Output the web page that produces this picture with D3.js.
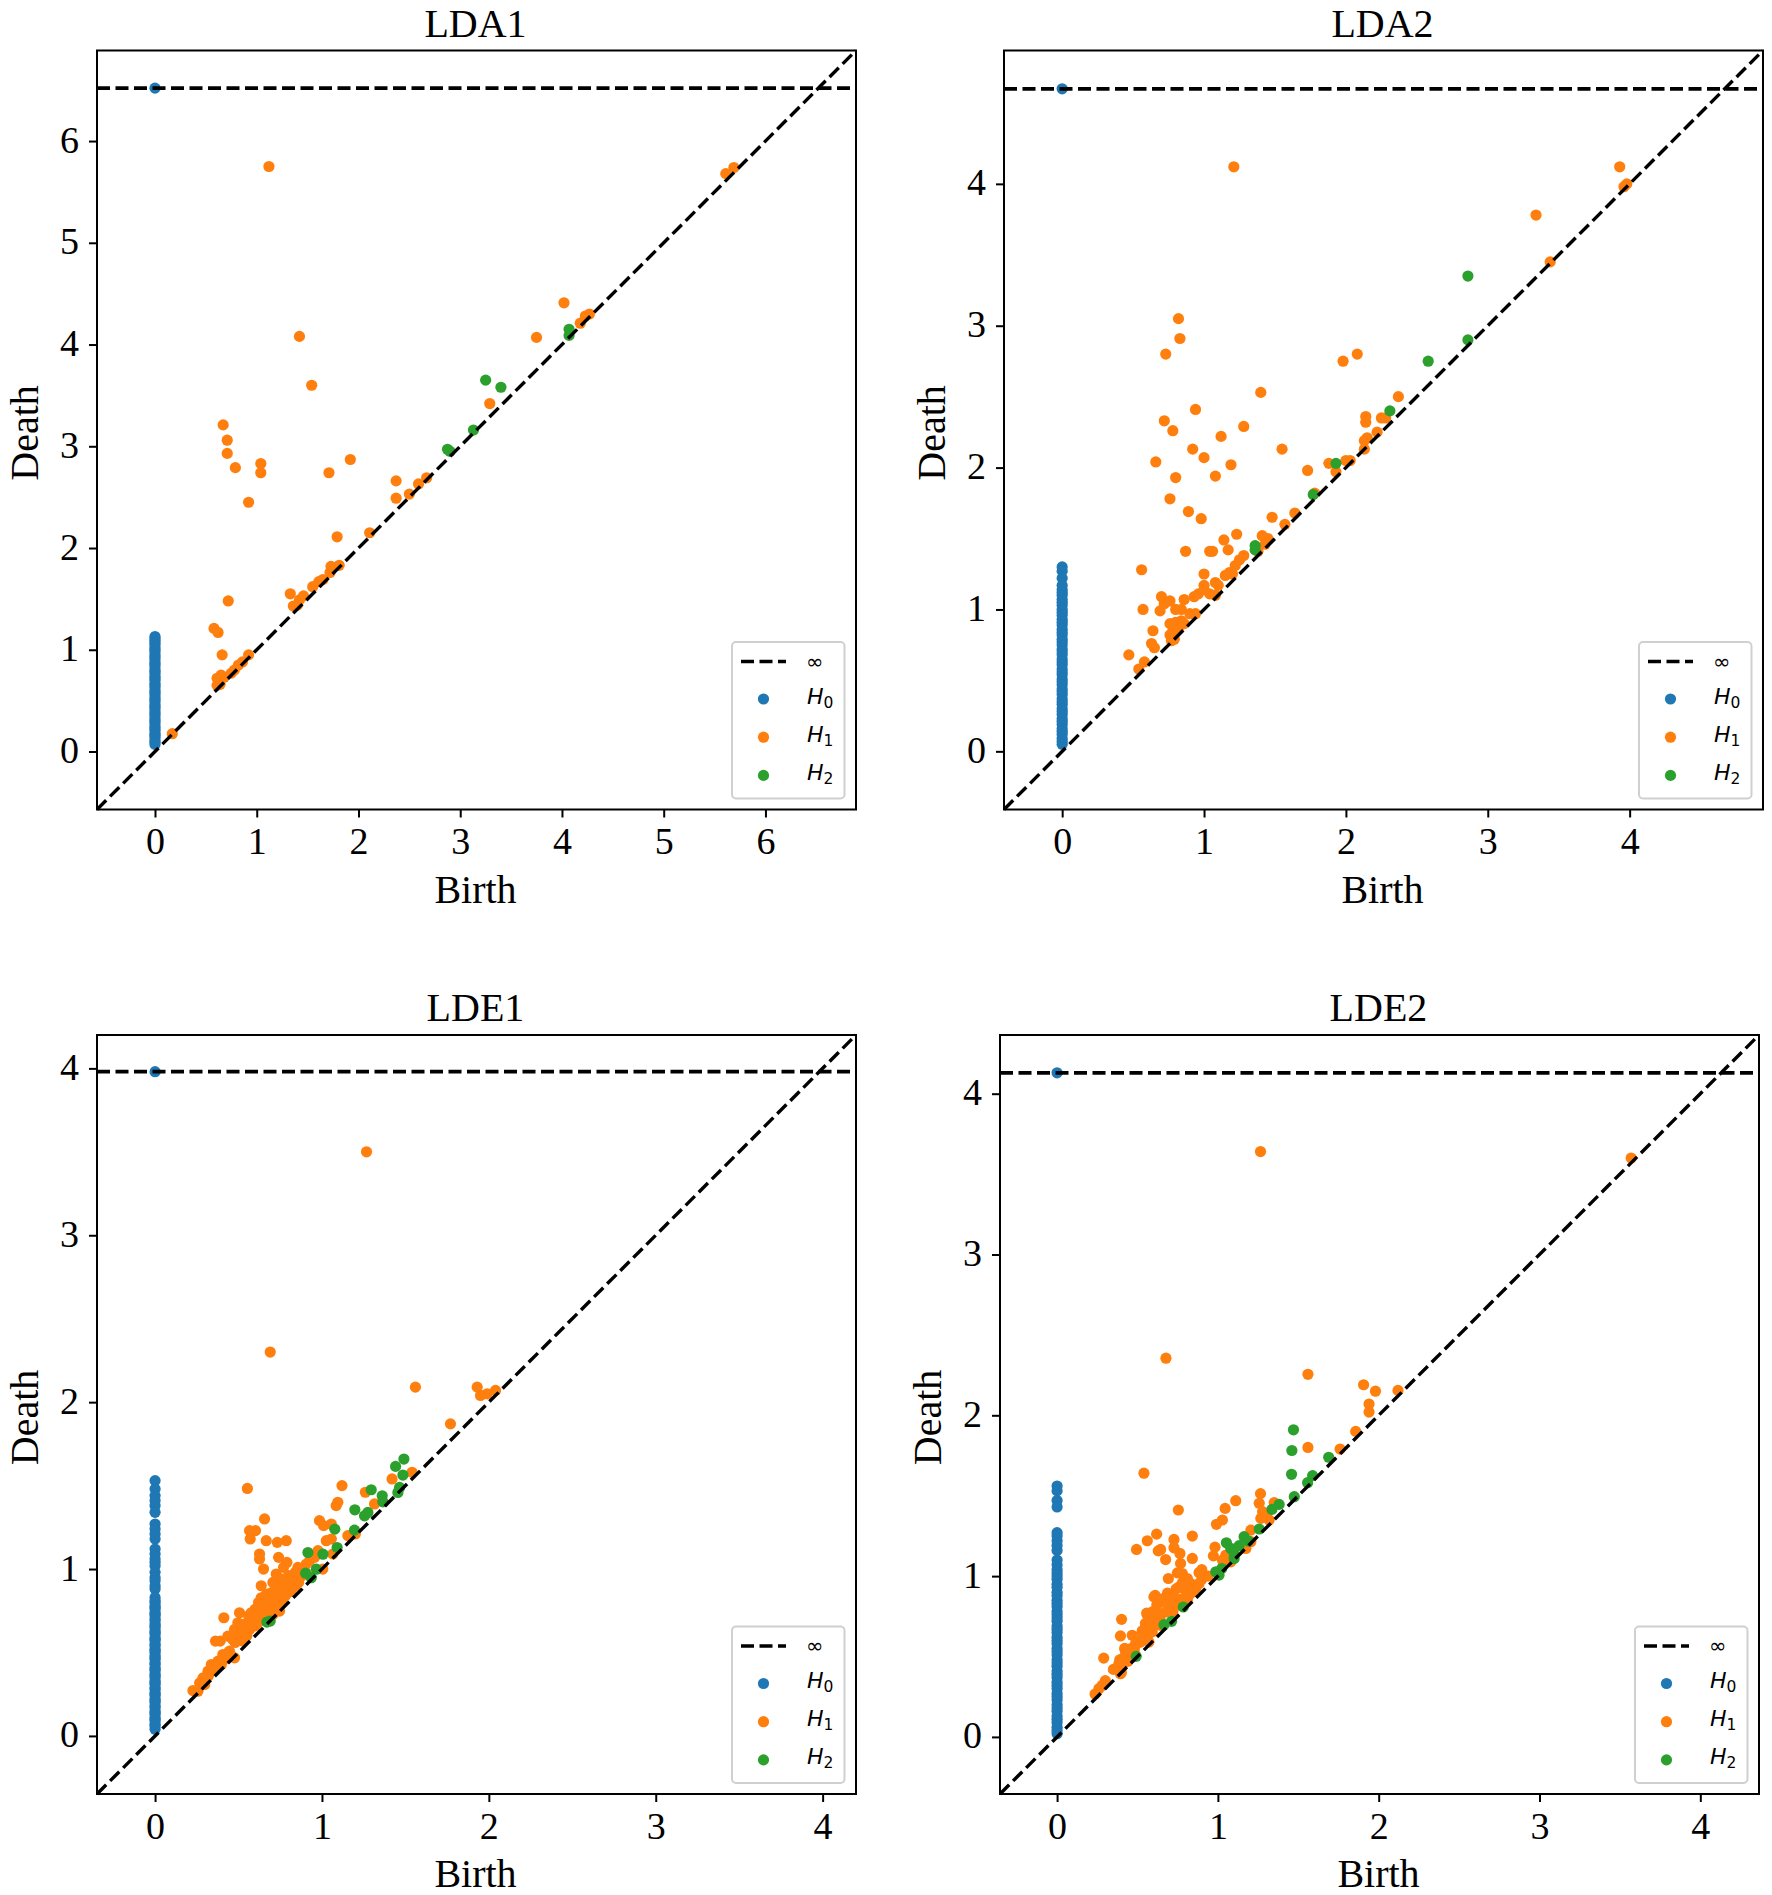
<!DOCTYPE html>
<html>
<head>
<meta charset="utf-8">
<script src="https://cdn.jsdelivr.net/npm/d3@7"></script>
<style>
  body { margin: 0; background: #fff; }
  text { font-family: "Liberation Serif", serif; fill: #000; }
  .legend text { font-family: "DejaVu Sans", sans-serif; }
</style>
</head>
<body>
<svg id="chart"></svg>
<script>
// values, [birth, death]
var panelTitles = ["LDA1", "LDA2", "LDE1", "LDE2"];
var axisLimits = [[-0.57, 6.89], [-0.41, 4.94], [-0.348, 4.2], [-0.355, 4.365]];
var infValues = [6.52, 4.67, 3.98, 4.13];
var xTicks = [[0, 1, 2, 3, 4, 5, 6], [0, 1, 2, 3, 4], [0, 1, 2, 3, 4], [0, 1, 2, 3, 4]];
var yTicks = [[0, 1, 2, 3, 4, 5, 6], [0, 1, 2, 3, 4], [0, 1, 2, 3, 4], [0, 1, 2, 3, 4]];

var lda1H0 = [6.52, 1.13, 1.11, 1.09, 1.07, 1.05, 1.02, 1.0, 0.98, 0.95, 0.93, 0.91, 0.88, 0.86, 0.84, 0.81, 0.79, 0.77, 0.74, 0.72, 0.7, 0.67, 0.65, 0.63, 0.6, 0.58, 0.56, 0.53, 0.51, 0.49, 0.46, 0.44, 0.42, 0.39, 0.37, 0.35, 0.32, 0.3, 0.28, 0.25, 0.23, 0.21, 0.18, 0.16, 0.14, 0.11, 0.09, 0.07];
var lda1H1 = [[1.12, 5.75], [5.61, 5.68], [5.69, 5.74], [4.02, 4.41], [4.27, 4.3], [4.23, 4.28], [4.18, 4.21], [3.75, 4.07], [1.42, 4.08], [1.54, 3.6], [3.29, 3.42], [0.67, 3.21], [0.71, 3.06], [0.71, 2.93], [1.92, 2.87], [0.17, 0.175], [0.58, 1.21], [0.62, 1.17], [0.66, 0.95], [0.72, 1.48], [0.92, 2.45], [1.04, 2.83], [1.04, 2.74], [0.79, 2.79], [1.71, 2.74], [2.37, 2.66], [2.37, 2.49], [2.5, 2.53], [2.59, 2.63], [2.67, 2.69], [2.11, 2.15], [1.79, 2.11], [1.73, 1.82], [1.81, 1.83], [1.72, 1.76], [1.65, 1.69], [1.61, 1.67], [1.55, 1.62], [1.33, 1.55], [1.46, 1.53], [1.42, 1.49], [1.36, 1.43], [1.4, 1.44], [0.61, 0.72], [0.65, 0.75], [0.68, 0.73], [0.64, 0.66], [0.78, 0.8], [0.82, 0.85], [0.86, 0.88], [0.92, 0.95], [0.75, 0.77], [0.61, 0.65]];
var lda1H2 = [[3.25, 3.65], [3.4, 3.58], [4.07, 4.15], [4.07, 4.09], [3.13, 3.16], [2.875, 2.97], [2.9, 2.95]];

var lda2H0 = [4.67, 1.3, 1.27, 1.22, 1.17, 1.14, 1.12, 1.1, 1.07, 1.05, 1.03, 1.0, 0.98, 0.96, 0.93, 0.91, 0.89, 0.86, 0.84, 0.82, 0.79, 0.77, 0.75, 0.72, 0.7, 0.68, 0.65, 0.63, 0.61, 0.58, 0.56, 0.54, 0.51, 0.49, 0.47, 0.44, 0.42, 0.4, 0.37, 0.35, 0.33, 0.3, 0.28, 0.26, 0.23, 0.21, 0.19, 0.16, 0.14, 0.12, 0.09, 0.07, 0.05];
var lda2H1 = [[1.21, 4.12], [3.93, 4.12], [3.98, 4.0], [3.96, 3.98], [3.34, 3.78], [3.44, 3.45], [0.82, 3.05], [0.83, 2.91], [0.73, 2.8], [1.98, 2.75], [2.08, 2.8], [1.4, 2.53], [2.37, 2.5], [0.94, 2.41], [0.72, 2.33], [0.78, 2.26], [1.28, 2.29], [1.12, 2.22], [0.92, 2.13], [1.55, 2.13], [1.0, 2.07], [2.14, 2.36], [2.14, 2.32], [2.25, 2.35], [2.28, 2.35], [2.22, 2.25], [2.15, 2.21], [2.13, 2.19], [2.13, 2.13], [2.0, 2.05], [2.03, 2.05], [0.66, 2.04], [0.8, 1.93], [1.08, 1.94], [1.19, 2.02], [1.73, 1.98], [1.88, 2.03], [1.93, 1.97], [0.76, 1.78], [0.89, 1.69], [0.98, 1.64], [1.48, 1.65], [1.64, 1.68], [1.57, 1.6], [1.78, 1.82], [1.23, 1.53], [1.14, 1.49], [1.17, 1.42], [0.87, 1.41], [1.04, 1.41], [1.06, 1.41], [1.41, 1.52], [1.45, 1.5], [1.43, 1.46], [1.38, 1.41], [1.28, 1.38], [1.25, 1.35], [1.22, 1.31], [0.56, 1.28], [1.0, 1.25], [1.18, 1.26], [1.15, 1.24], [1.2, 1.25], [1.08, 1.19], [1.1, 1.17], [1.0, 1.17], [1.0, 1.14], [0.96, 1.11], [0.93, 1.09], [1.04, 1.11], [1.08, 1.1], [0.86, 1.07], [0.7, 1.09], [0.76, 1.06], [0.72, 1.04], [0.69, 0.99], [0.57, 1.0], [0.8, 1.0], [0.84, 1.0], [0.9, 0.97], [0.94, 0.97], [0.64, 0.85], [0.63, 0.76], [0.65, 0.73], [0.47, 0.68], [0.58, 0.63], [0.54, 0.58], [0.76, 0.9], [0.8, 0.91], [0.84, 0.92], [0.86, 0.9], [0.78, 0.85], [0.82, 0.87], [0.76, 0.82], [0.79, 0.79], [0.77, 0.78]];
var lda2H2 = [[2.86, 3.35], [2.86, 2.9], [2.58, 2.75], [2.31, 2.4], [1.93, 2.03], [1.77, 1.81], [1.36, 1.45], [1.36, 1.42]];

var lde1H0 = [3.98, 1.53, 1.48, 1.44, 1.41, 1.38, 1.34, 1.27, 1.24, 1.21, 1.18, 1.12, 1.09, 1.06, 1.04, 1.02, 0.98, 0.95, 0.93, 0.9, 0.88, 0.83, 0.81, 0.8, 0.78, 0.77, 0.76, 0.74, 0.73, 0.72, 0.7, 0.69, 0.67, 0.66, 0.65, 0.63, 0.62, 0.61, 0.59, 0.58, 0.57, 0.55, 0.54, 0.52, 0.51, 0.5, 0.48, 0.47, 0.46, 0.44, 0.43, 0.41, 0.4, 0.39, 0.37, 0.36, 0.35, 0.33, 0.32, 0.31, 0.29, 0.28, 0.26, 0.25, 0.24, 0.22, 0.21, 0.2, 0.18, 0.17, 0.15, 0.14, 0.13, 0.11, 0.1, 0.09, 0.07, 0.06, 0.04];
var lde1H1 = [[1.267, 3.5], [0.69, 2.3], [1.56, 2.09], [1.93, 2.09], [1.95, 2.04], [1.99, 2.05], [2.04, 2.07], [1.77, 1.87], [1.54, 1.58], [1.42, 1.54], [1.12, 1.5], [1.26, 1.46], [0.553, 1.483], [1.095, 1.4], [1.085, 1.38], [1.315, 1.39], [0.656, 1.3], [0.985, 1.29], [1.01, 1.26], [1.056, 1.27], [0.566, 1.23], [0.602, 1.23], [0.57, 1.18], [0.666, 1.17], [0.732, 1.16], [0.786, 1.17], [1.155, 1.2], [1.2, 1.21], [1.026, 1.17], [1.056, 1.18], [0.976, 1.11], [0.626, 1.09], [0.626, 1.06], [0.74, 1.07], [0.79, 1.04], [0.77, 1.01], [0.65, 1.0], [1.065, 1.09], [1.005, 1.0], [0.956, 1.07], [0.926, 1.05], [0.906, 1.03], [0.856, 1.01], [0.726, 0.97], [0.746, 0.94], [0.636, 0.9], [0.836, 0.95], [0.806, 0.93], [0.786, 0.91], [0.766, 0.92], [0.706, 0.92], [0.726, 0.89], [0.636, 0.828], [0.666, 0.848], [0.696, 0.858], [0.726, 0.848], [0.756, 0.858], [0.646, 0.788], [0.686, 0.808], [0.726, 0.828], [0.766, 0.828], [0.746, 0.788], [0.706, 0.768], [0.666, 0.758], [0.626, 0.748], [0.606, 0.728], [0.576, 0.738], [0.596, 0.688], [0.556, 0.678], [0.526, 0.668], [0.506, 0.738], [0.496, 0.678], [0.476, 0.638], [0.536, 0.628], [0.506, 0.588], [0.566, 0.638], [0.616, 0.678], [0.656, 0.708], [0.706, 0.728], [0.746, 0.748], [0.786, 0.868], [0.816, 0.908], [0.412, 0.708], [0.436, 0.598], [0.362, 0.568], [0.39, 0.568], [0.466, 0.578], [0.526, 0.568], [0.446, 0.508], [0.406, 0.488], [0.377, 0.448], [0.337, 0.428], [0.317, 0.388], [0.357, 0.408], [0.397, 0.428], [0.456, 0.478], [0.287, 0.348], [0.267, 0.318], [0.297, 0.308], [0.227, 0.272], [0.257, 0.268], [0.476, 0.468], [0.55, 0.6], [0.6, 0.66], [0.62, 0.7], [0.66, 0.72], [0.68, 0.75], [0.7, 0.78], [0.72, 0.8], [0.74, 0.82], [0.76, 0.8], [0.78, 0.84], [0.8, 0.86], [0.82, 0.88], [0.84, 0.9], [0.86, 0.92], [0.88, 0.96], [0.9, 0.98], [0.7, 0.82], [0.68, 0.85], [0.66, 0.8], [0.64, 0.72], [0.58, 0.68], [0.54, 0.62], [0.5, 0.6], [0.52, 0.58], [0.48, 0.56], [0.44, 0.5], [0.42, 0.46], [0.38, 0.44], [0.34, 0.4], [0.32, 0.36], [0.3, 0.34], [0.48, 0.6], [0.56, 0.72], [0.6, 0.76], [0.62, 0.8], [0.72, 0.9], [0.74, 0.92], [0.8, 0.96], [0.84, 0.98], [0.76, 0.94]];
var lde1H2 = [[1.491, 1.659], [1.441, 1.615], [1.485, 1.563], [1.465, 1.489], [1.455, 1.459], [1.295, 1.475], [1.361, 1.439], [1.365, 1.403], [1.197, 1.355], [1.255, 1.319], [1.275, 1.339], [1.077, 1.239], [1.195, 1.233], [1.091, 1.129], [0.916, 1.099], [1.006, 1.089], [0.902, 0.975], [0.966, 0.999], [0.936, 0.948], [0.67, 0.682], [0.69, 0.688]];

var lde2H0 = [4.13, 1.56, 1.53, 1.47, 1.43, 1.27, 1.25, 1.22, 1.19, 1.16, 1.1, 1.07, 1.04, 1.02, 1.0, 0.98, 0.95, 0.93, 0.9, 0.88, 0.85, 0.83, 0.81, 0.78, 0.76, 0.74, 0.72, 0.69, 0.67, 0.65, 0.62, 0.6, 0.58, 0.55, 0.53, 0.51, 0.48, 0.46, 0.44, 0.41, 0.39, 0.37, 0.34, 0.32, 0.3, 0.27, 0.25, 0.23, 0.2, 0.18, 0.16, 0.13, 0.11, 0.09, 0.06, 0.04, 0.02];
var lde2H1 = [[1.265, 3.64], [3.57, 3.6], [0.677, 2.355], [1.56, 2.255], [1.906, 2.19], [1.98, 2.15], [2.12, 2.155], [1.94, 2.07], [1.94, 2.02], [1.857, 1.9], [1.76, 1.79], [1.56, 1.8], [0.54, 1.64], [1.265, 1.513], [1.111, 1.469], [1.045, 1.421], [0.754, 1.411], [1.028, 1.349], [0.991, 1.322], [1.35, 1.457], [1.257, 1.453], [1.278, 1.401], [1.298, 1.369], [1.267, 1.359], [1.319, 1.349], [0.619, 1.261], [0.841, 1.249], [0.561, 1.22], [0.727, 1.228], [0.727, 1.176], [0.494, 1.166], [0.629, 1.157], [0.644, 1.166], [0.982, 1.18], [0.972, 1.126], [1.205, 1.286], [0.841, 1.11], [0.675, 1.103], [0.764, 1.141], [0.768, 1.079], [0.748, 1.02], [0.779, 1.016], [0.692, 0.985], [0.883, 1.022], [0.914, 1.006], [0.81, 0.985], [0.831, 0.954], [0.758, 0.933], [0.789, 0.923], [0.82, 0.902], [0.862, 0.923], [0.883, 0.954], [0.602, 0.871], [0.696, 0.887], [0.644, 0.839], [0.696, 0.819], [0.737, 0.86], [0.779, 0.86], [0.81, 0.85], [0.82, 0.881], [0.561, 0.757], [0.592, 0.777], [0.633, 0.767], [0.675, 0.777], [0.55, 0.704], [0.581, 0.715], [0.613, 0.715], [0.644, 0.694], [0.401, 0.731], [0.467, 0.632], [0.394, 0.628], [0.529, 0.653], [0.561, 0.653], [0.592, 0.653], [0.55, 0.611], [0.519, 0.59], [0.488, 0.58], [0.571, 0.59], [0.426, 0.528], [0.457, 0.549], [0.405, 0.486], [0.384, 0.455], [0.394, 0.393], [0.415, 0.465], [0.467, 0.497], [1.049, 1.13], [1.08, 1.089], [1.028, 1.099], [1.174, 1.172], [1.205, 1.214], [0.29, 0.49], [0.236, 0.267], [0.26, 0.3], [0.3, 0.35], [0.28, 0.32], [0.35, 0.42], [0.4, 0.4], [0.39, 0.48], [0.44, 0.47], [0.46, 0.53], [0.42, 0.55], [0.49, 0.575], [0.53, 0.66], [0.55, 0.705], [0.557, 0.77], [0.61, 0.88], [0.687, 0.895], [0.72, 0.78], [0.76, 0.82], [0.8, 0.86], [0.84, 0.9], [0.86, 0.94], [0.9, 0.98], [0.6, 0.7], [0.64, 0.74], [0.68, 0.78], [0.56, 0.62], [0.52, 0.6], [0.48, 0.54], [0.74, 0.92], [0.78, 0.96], [0.7, 0.84], [0.66, 0.86], [0.62, 0.82], [0.94, 1.0], [0.9, 1.04], [0.58, 0.72]];
var lde2H2 = [[1.47, 1.91], [1.46, 1.781], [1.689, 1.739], [1.458, 1.633], [1.589, 1.625], [1.558, 1.581], [1.475, 1.494], [1.381, 1.446], [1.336, 1.415], [1.257, 1.293], [1.163, 1.245], [1.19, 1.218], [1.053, 1.207], [1.08, 1.172], [1.101, 1.141], [1.132, 1.189], [1.101, 1.11], [0.987, 1.027], [1.024, 1.047], [1.007, 1.006], [0.785, 0.808], [0.665, 0.698], [0.712, 0.719], [0.492, 0.501]];

var h0Deaths = [lda1H0, lda2H0, lde1H0, lde2H0];
var h1Points = [lda1H1, lda2H1, lde1H1, lde2H1];
var h2Points = [lda1H2, lda2H2, lde1H2, lde2H2];

var legendLabels = ["0", "1", "2"];
var colors = ["#1f77b4", "#ff7f0e", "#2ca02c"];

var dimensions = { width: 1772, height: 1895, plot: 759 };
var plotOrigins = [[97, 50.5], [1004, 50.5], [97, 1035], [1000, 1035]];
var dotRadius = 5.6;
var dash = "13,5.5";

var svg = d3.select("#chart")
  .attr("width", dimensions.width)
  .attr("height", dimensions.height);

panelTitles.forEach(function (title, i) {
  var size = dimensions.plot;
  var g = svg.append("g")
    .attr("transform", "translate(" + plotOrigins[i][0] + "," + plotOrigins[i][1] + ")");

  var xScale = d3.scaleLinear().domain(axisLimits[i]).range([0, size]);
  var yScale = d3.scaleLinear().domain(axisLimits[i]).range([size, 0]);

  var series = [
    h0Deaths[i].map(function (d) { return [0, d]; }),
    h1Points[i],
    h2Points[i],
  ];

  series.forEach(function (points, s) {
    g.append("g").selectAll("circle")
      .data(points)
      .enter()
      .append("circle")
      .attr("cx", function (d) { return xScale(d[0]); })
      .attr("cy", function (d) { return yScale(d[1]); })
      .attr("r", dotRadius)
      .attr("fill", colors[s]);
  });

  // infinity line and the diagonal sit on top of the dots
  g.append("line")
    .attr("x1", xScale(axisLimits[i][0]))
    .attr("x2", xScale(axisLimits[i][1]))
    .attr("y1", yScale(infValues[i]))
    .attr("y2", yScale(infValues[i]))
    .attr("stroke", "#000")
    .attr("stroke-width", 3.8)
    .attr("stroke-dasharray", dash);

  g.append("line")
    .attr("x1", xScale(axisLimits[i][0]))
    .attr("x2", xScale(axisLimits[i][1]))
    .attr("y1", yScale(axisLimits[i][0]))
    .attr("y2", yScale(axisLimits[i][1]))
    .attr("stroke", "#000")
    .attr("stroke-width", 3.4)
    .attr("stroke-dasharray", dash);

  var xAxis = g.append("g")
    .attr("transform", "translate(0," + size + ")")
    .call(d3.axisBottom(xScale).tickValues(xTicks[i]).tickFormat(d3.format("d")).tickSize(8).tickPadding(10));
  var yAxis = g.append("g")
    .call(d3.axisLeft(yScale).tickValues(yTicks[i]).tickFormat(d3.format("d")).tickSize(8).tickPadding(10));

  [xAxis, yAxis].forEach(function (axis) {
    axis.select(".domain").remove();
    axis.selectAll("line").attr("stroke", "#000").attr("stroke-width", 2);
    axis.selectAll("text").attr("font-size", 38).attr("font-family", "Liberation Serif");
  });
  yAxis.selectAll("text").attr("dy", "0.29em");

  g.append("rect")
    .attr("width", size)
    .attr("height", size)
    .attr("fill", "none")
    .attr("stroke", "#000")
    .attr("stroke-width", 2);

  g.append("text")
    .attr("x", size / 2 - 1)
    .attr("y", -14)
    .attr("text-anchor", "middle")
    .attr("font-size", 40)
    .text(title);

  g.append("text")
    .attr("x", size / 2 - 1)
    .attr("y", size + 93)
    .attr("text-anchor", "middle")
    .attr("font-size", 40)
    .text("Birth");

  g.append("text")
    .attr("transform", "translate(-59," + (size / 2 + 3) + ") rotate(-90)")
    .attr("text-anchor", "middle")
    .attr("font-size", 40)
    .text("Death");

  // legend, lower right corner of each panel
  var legend = g.append("g")
    .attr("class", "legend")
    .attr("transform", "translate(" + (size - 124) + "," + (size - 167.5) + ")");

  legend.append("rect")
    .attr("width", 112.5)
    .attr("height", 156.5)
    .attr("rx", 4)
    .attr("fill", "#fff")
    .attr("fill-opacity", 0.8)
    .attr("stroke", "#d0d0d0")
    .attr("stroke-width", 2);

  legend.append("line")
    .attr("x1", 9)
    .attr("x2", 54)
    .attr("y1", 19.5)
    .attr("y2", 19.5)
    .attr("stroke", "#000")
    .attr("stroke-width", 3.4)
    .attr("stroke-dasharray", dash);

  legend.append("text")
    .attr("x", 74)
    .attr("y", 26.5)
    .attr("font-size", 21)
    .text("∞");

  var rows = legend.selectAll(".row")
    .data(legendLabels)
    .enter()
    .append("g")
    .attr("class", "row")
    .attr("transform", function (d, r) { return "translate(0," + (57 + 38.2 * r) + ")"; });

  rows.append("circle")
    .attr("cx", 31.5)
    .attr("r", dotRadius)
    .attr("fill", function (d, r) { return colors[r]; });

  var labels = rows.append("text")
    .attr("x", 75)
    .attr("y", 4.5)
    .attr("font-size", 22);
  labels.append("tspan").attr("font-style", "italic").text("H");
  labels.append("tspan")
    .attr("font-size", 15.5)
    .attr("dy", 4)
    .text(function (d) { return d; });
});
</script>
</body>
</html>
